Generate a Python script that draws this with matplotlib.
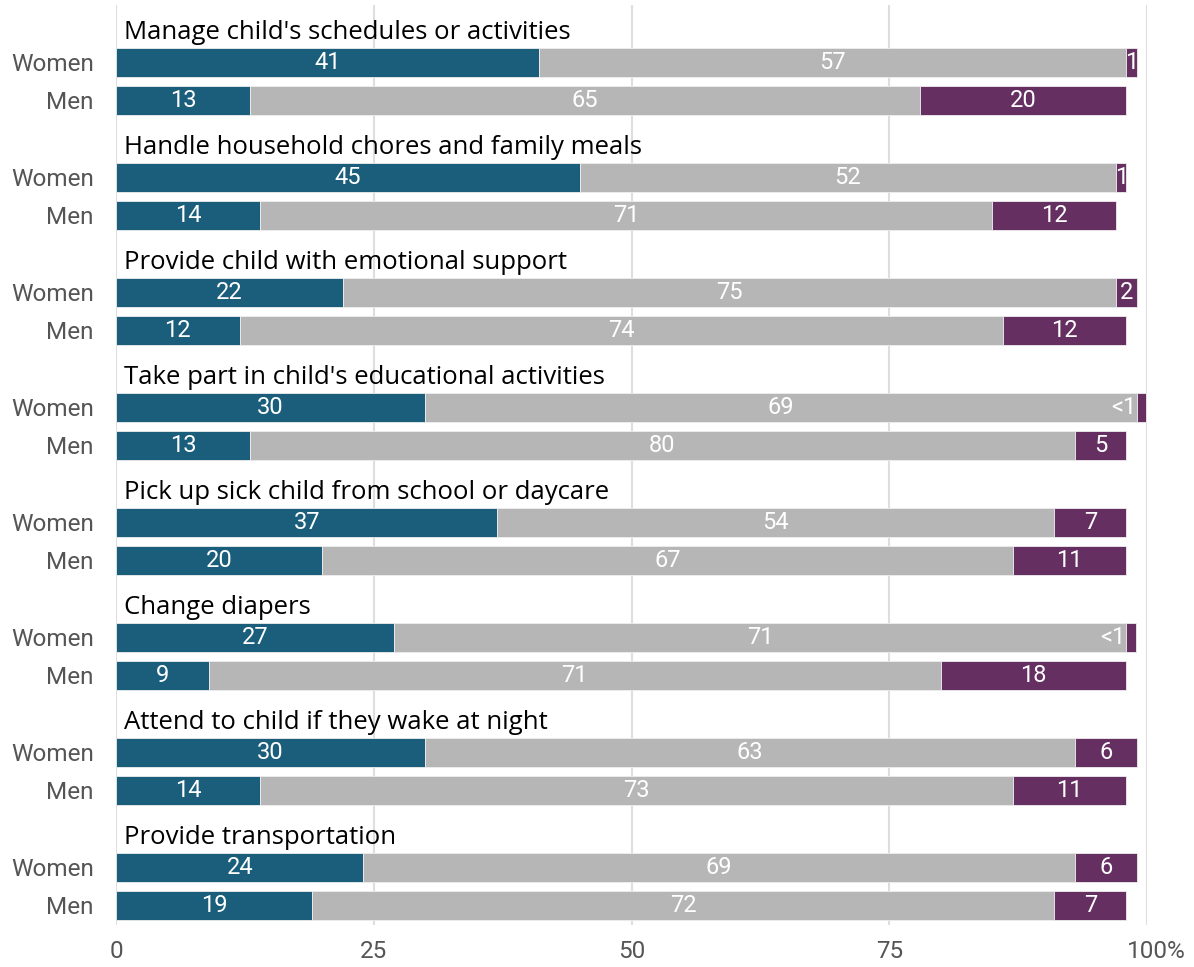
import numpy as np
import matplotlib.pyplot as plt
import matplotlib.transforms as mtransforms

# tasks, top to bottom
tasks = [
    "Manage child's schedules or activities",
    "Handle household chores and family meals",
    "Provide child with emotional support",
    "Take part in child's educational activities",
    "Pick up sick child from school or daycare",
    "Change diapers",
    "Attend to child if they wake at night",
    "Provide transportation",
]
groups = ["Women", "Men"]

# share (%) for each task: [women, men]
first = [[41, 13], [45, 14], [22, 12], [30, 13], [37, 20], [27, 9], [30, 14], [24, 19]]
middle = [[57, 65], [52, 71], [75, 74], [69, 80], [54, 67], [71, 71], [63, 73], [69, 72]]
last = [[1, 20], [1, 12], [2, 12], [0.9, 5], [7, 11], [0.9, 18], [6, 11], [6, 7]]

colors = ["#1a5e7c", "#b6b6b6", "#652f61"]

plt.rcParams["font.family"] = ["Roboto", "DejaVu Sans"]

fig = plt.figure(figsize=(11.94, 9.67), dpi=100)
ax = fig.add_axes([116 / 1194, 42 / 967, 1031 / 1194, 920 / 967])

GROUP_STEP = 115
ROW_STEP = 38
TOP = 62
BAR_H = 29

yticks, ylabels = [], []
for i, task in enumerate(tasks):
    y0 = TOP + GROUP_STEP * i
    ax.text(0.8, y0 - 30, task, fontsize=18.5, family=["Open Sans", "DejaVu Sans"],
            color="black", va="center", ha="left")
    for j, g in enumerate(groups):
        y = y0 + ROW_STEP * j
        yticks.append(y)
        ylabels.append(g)
        vals = [first[i][j], middle[i][j], last[i][j]]
        left = 0
        for k, v in enumerate(vals):
            ax.barh(y, v, left=left, height=BAR_H, color=colors[k],
                    edgecolor="#eeeeee", linewidth=0.6, zorder=2)
            if v < 1:
                ax.text(left - 0.05, y, "<1", color="white", fontsize=17,
                        ha="right", va="center", zorder=3)
            else:
                ax.text(left + v / 2, y, f"{v:g}", color="white", fontsize=17,
                        ha="center", va="center", zorder=3)
            left += v

ax.set_xlim(0, 100)
ax.set_ylim(925, 5)
ax.set_yticks(yticks)
ax.set_yticklabels(ylabels)
ax.set_xticks([0, 25, 50, 75, 100])
ax.set_xticklabels(["0", "25", "50", "75", "100%"])
ax.tick_params(axis="both", length=0, labelsize=17.5, labelcolor="#555555")
ax.tick_params(axis="y", pad=16)
ax.tick_params(axis="x", pad=11)
lbl = ax.get_xticklabels()[-1]
lbl.set_transform(lbl.get_transform() + mtransforms.ScaledTranslation(0.09, 0, fig.dpi_scale_trans))

ax.grid(axis="x", color="#dedede", linewidth=1.5, zorder=0)
ax.set_axisbelow(True)
for s in ax.spines.values():
    s.set_visible(False)

fig.savefig("out.png", dpi=100)
